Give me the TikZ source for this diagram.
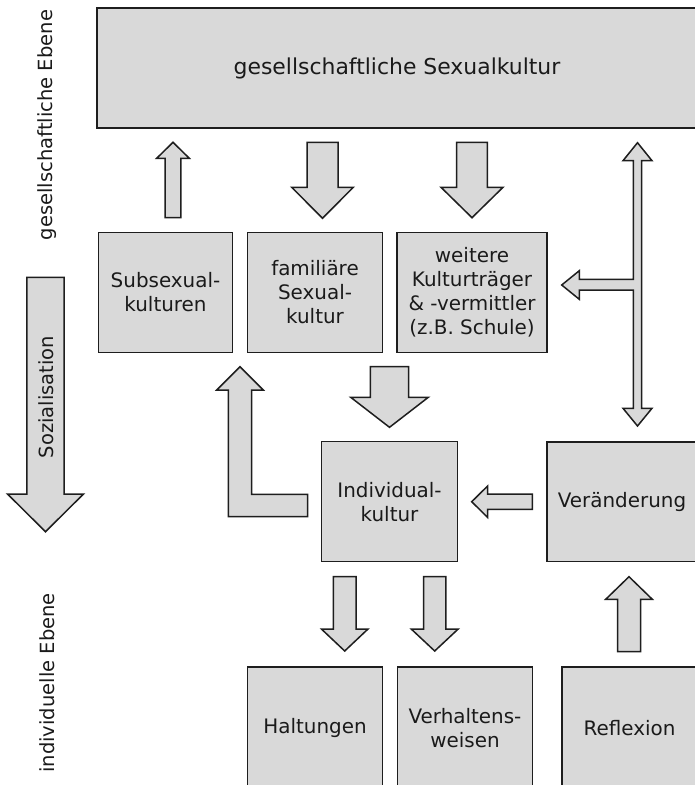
\documentclass[tikz,border=0pt]{standalone}
\usepackage{fontspec}
\setmainfont{DejaVu Sans}
\definecolor{boxfill}{HTML}{D9D9D9}
\definecolor{lineclr}{HTML}{1E1E1E}
\definecolor{txtclr}{HTML}{1A1A1A}
\tikzset{
  blk/.style={draw=lineclr, fill=boxfill, line width=1.5bp, line join=miter},
  box/.style={blk, rectangle, inner sep=0pt, align=center, text=txtclr,
    font=\fontsize{20}{24}\selectfont},
  sidelabel/.style={rotate=90, text=txtclr, inner sep=0pt, font=\fontsize{19.6}{23}\selectfont}
}
% vertical block arrow: x, y of tail, y of head base, y of tip, shaft half width, head half width
\newcommand{\vblk}[6]{%
  \draw[blk] (#1-#5,#2) -- (#1+#5,#2) -- (#1+#5,#3) -- (#1+#6,#3) -- (#1,#4)
    -- (#1-#6,#3) -- (#1-#5,#3) -- cycle;}
% horizontal block arrow: y, x of tail, x of head base, x of tip, shaft half width, head half width
\newcommand{\hblk}[6]{%
  \draw[blk] (#2,#1-#5) -- (#2,#1+#5) -- (#3,#1+#5) -- (#3,#1+#6) -- (#4,#1)
    -- (#3,#1-#6) -- (#3,#1-#5) -- cycle;}
\begin{document}
\begin{tikzpicture}[x=1bp,y=-1bp]
\useasboundingbox (0,0) rectangle (695,785);
\clip (0,0) rectangle (695,785);
\fill[white] (0,0) rectangle (695,785);

% boxes
\node[box, minimum width=600bp, minimum height=120bp, font=\fontsize{22}{26}\selectfont]
  (top) at (397,68) {gesellschaftliche Sexualkultur};
\node[box, minimum width=134.4bp, minimum height=120bp] (sub) at (165.5,292.3) {Subsexual-\\kulturen};
\node[box, minimum width=135.2bp, minimum height=120bp] (fam) at (315,292.3) {familiäre\\Sexual-\\kultur};
\node[box, minimum width=149.7bp, minimum height=120bp] (wei) at (472,292.3) {weitere\\Kulturträger\\\& -vermittler\\(z.B. Schule)};
\node[box, minimum width=135.6bp, minimum height=120bp] (ind) at (389.5,501.7) {Individual-\\kultur};
\node[box, minimum width=150bp, minimum height=119.7bp] (ver) at (622,501.8) {Veränderung};
\node[box, minimum width=135.4bp, minimum height=123bp] (hal) at (315,728.3) {Haltungen};
\node[box, minimum width=135.4bp, minimum height=123bp] (vhw) at (465,728.3) {Verhaltens-\\weisen};
\node[box, minimum width=135bp, minimum height=123bp] (ref) at (629.5,728.3) {Reflexion};

% block arrows
\vblk{173}{217.7}{158.3}{142.3}{7.8}{16.3}      % sub -> top
\vblk{322.5}{142.3}{187.3}{218.3}{15.5}{30.8}   % top -> fam
\vblk{472}{142.3}{187.3}{217.7}{15.3}{31}       % top -> wei
\vblk{389.5}{366.7}{397.3}{427.3}{19.2}{38.8}   % row -> ind
\hblk{501.7}{532.3}{487.5}{471.7}{7.7}{15.6}    % ver -> ind
\vblk{344.7}{576.5}{629}{651}{11.3}{23.3}       % ind -> hal
\vblk{434.7}{576.5}{629}{651}{11.2}{23.5}       % ind -> vhw
\vblk{629}{651.7}{599.3}{576.7}{11.5}{23.3}     % ref -> ver

% double arrow with branch (top <-> ver, -> wei)
\draw[blk] (637.5,142.7) -- (652,160.7) -- (641.7,160.7) -- (641.7,408.3)
  -- (652,408.3) -- (637.5,426) -- (623,408.3) -- (633.3,408.3)
  -- (633.3,290) -- (579.3,290) -- (579.3,299.3) -- (561.7,285)
  -- (579.3,270.7) -- (579.3,279.3) -- (633.3,279.3) -- (633.3,160.7)
  -- (623,160.7) -- cycle;

% L-shaped arrow (ind -> sub)
\draw[blk] (228.3,390) -- (228.3,516.7) -- (307.7,516.7) -- (307.7,494.3)
  -- (251.7,494.3) -- (251.7,390) -- (263.3,390) -- (240,366.7)
  -- (216.7,390) -- cycle;

% Sozialisation arrow
\vblk{45.5}{277.3}{494}{531.7}{18.7}{38}
\node[sidelabel] (soz) at (46.5,397) {Sozialisation};

% side labels
\node[sidelabel] (gE) at (47.5,125) {gesellschaftliche Ebene};
\node[sidelabel] (iE) at (47.5,683) {individuelle Ebene};
\end{tikzpicture}
\end{document}
